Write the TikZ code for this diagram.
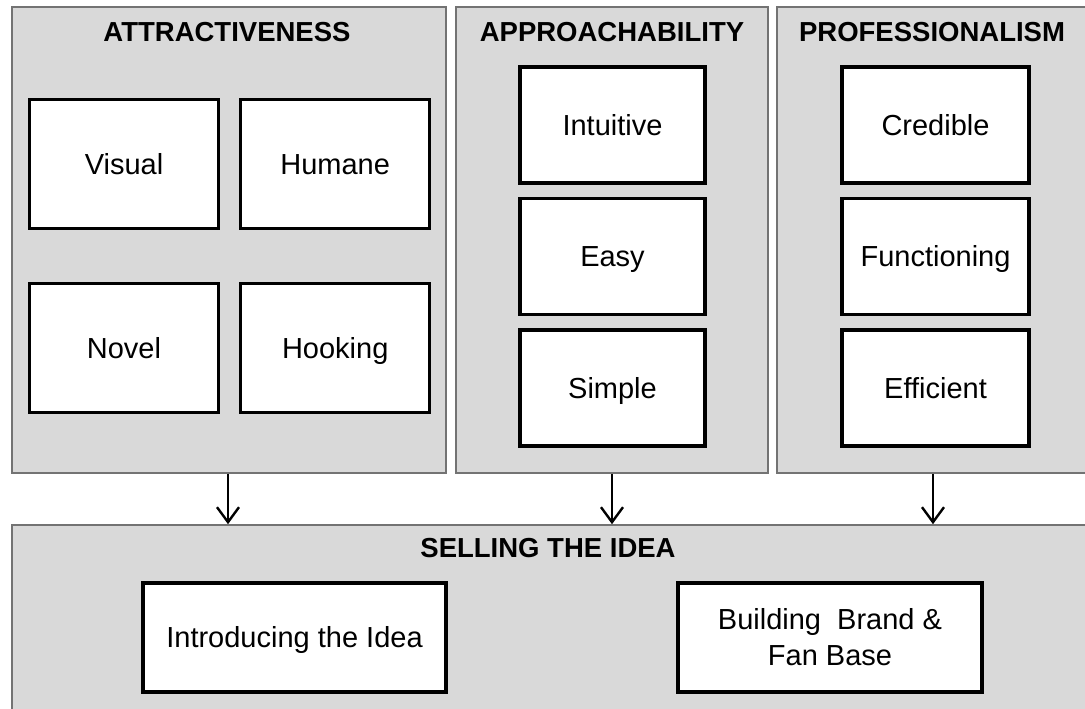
\documentclass[tikz,border=0pt]{standalone}
\usepackage{fontspec}
\setmainfont{Liberation Sans}
\usetikzlibrary{positioning,arrows.meta}
\tikzset{
  panel/.style={draw=gray!90!black, fill=gray!30, line width=1.6pt, inner sep=0pt},
  item/.style={draw, fill=white, line width=3.2pt, inner sep=0pt, align=center,
    font=\fontsize{29}{36}\selectfont, minimum width=#1,
    text height=20.5pt, text depth=0pt},
  item/.default=187pt,
  head/.style={font=\bfseries\fontsize{27.5}{30}\selectfont, inner sep=0pt},
  arr/.style={-{Straight Barb[length=15pt,width=22pt]}, line width=2.4pt}
}
\begin{document}
\begin{tikzpicture}[x=1pt,y=-1pt]
\useasboundingbox (0,0) rectangle (1085,709);
\clip (0,0) rectangle (1085,709);

\node [panel, minimum width=434pt, minimum height=466pt] (pa) at (229,240) {};
\node [panel, minimum width=312pt, minimum height=466pt] (pb) at (612,240) {};
\node [panel, minimum width=316pt, minimum height=466pt] (pc) at (935,240) {};
\node [panel, minimum width=1082pt, minimum height=196pt] (ps) at (553,623) {};

\node [head] (ha) at (227,32) {ATTRACTIVENESS};
\node [head] (hb) at (612,32) {APPROACHABILITY};
\node [head] (hc) at (932,32) {PROFESSIONALISM};
\node [head] (hs) at (548,548) {SELLING THE IDEA};

\node [item=189pt, minimum height=129pt] (a1) at (124,164) {Visual};
\node [item=189pt, minimum height=129pt, right=19pt of a1] (a2) {Humane};
\node [item=189pt, minimum height=129pt] (a3) at (124,348) {Novel};
\node [item=189pt, minimum height=129pt, right=19pt of a3] (a4) {Hooking};

\node [item=185pt, minimum height=116pt] (b1) at (612.5,125) {Intuitive};
\node [item=185pt, minimum height=116pt, below=12.5pt of b1] (b2) {Easy};
\node [item=185pt, minimum height=116pt, below=12pt of b2] (b3) {Simple};

\node [item, minimum height=116pt] (c1) at (935.5,125) {Credible};
\node [item, minimum height=116pt, below=12.5pt of c1] (c2) {Functioning};
\node [item, minimum height=116pt, below=12pt of c2] (c3) {Efficient};

\node [item=303pt, minimum height=109pt] (s1) at (294.5,637.5) {Introducing the Idea};
\node [item=304pt, minimum height=109pt, text height=56.5pt] (s2) at (830,637.5) {Building\ \ Brand \&\\Fan Base};

\draw [arr] ([xshift=-1pt]pa.south) -- ([xshift=-1pt]pa.south |- ps.north);
\draw [arr] (pb.south) -- (pb.south |- ps.north);
\draw [arr] ([xshift=-2pt]pc.south) -- ([xshift=-2pt]pc.south |- ps.north);

\end{tikzpicture}
\end{document}
